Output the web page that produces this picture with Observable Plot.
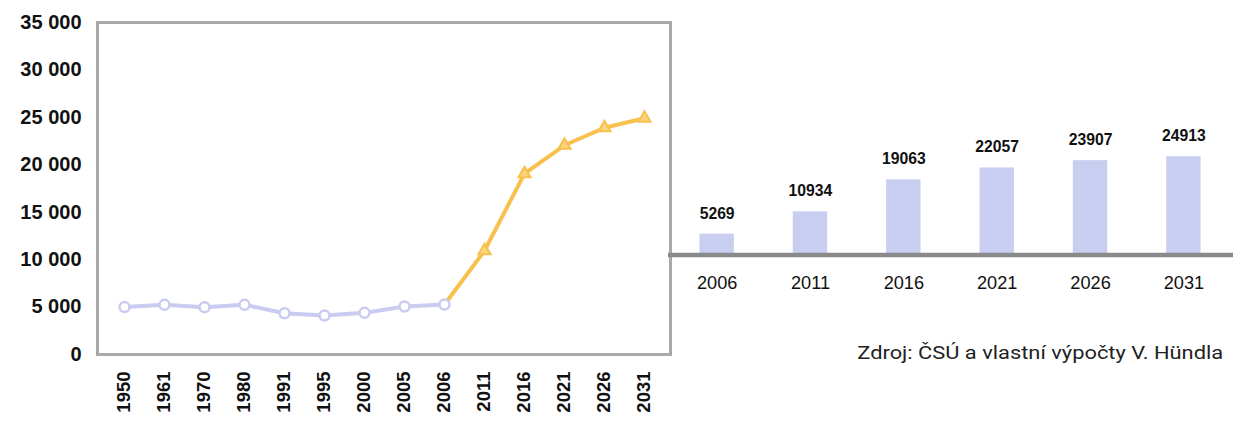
<!DOCTYPE html>
<html>
<head>
<meta charset="utf-8">
<script src="https://cdn.jsdelivr.net/npm/d3@7"></script>
<script src="https://cdn.jsdelivr.net/npm/@observablehq/plot@0.6"></script>
<style>
  html, body { margin: 0; padding: 0; background: #fff; }
  body { width: 1233px; height: 423px; position: relative; overflow: hidden; }
  #line, #bars { position: absolute; top: 0; }
  #line { left: 0; }
  #bars { left: 668px; }
  #source {
    position: absolute; right: 10px; top: 341px;
    font-family: Roboto, "Noto Sans", sans-serif; font-size: 19px; color: #222;
    white-space: nowrap; transform: scaleX(1.15); transform-origin: right center;
  }
</style>
</head>
<body>
<div id="line"></div>
<div id="bars"></div>
<div id="source">Zdroj: ČSÚ a vlastní výpočty V. Hündla</div>
<script>
// Census years and population (historical)
const pastYears = ["1950", "1961", "1970", "1980", "1991", "1995", "2000", "2005", "2006"];
const pastPop = [5000, 5240, 4990, 5240, 4350, 4110, 4390, 5060, 5269];

// Projection years and projected population
const projYears = ["2006", "2011", "2016", "2021", "2026", "2031"];
const projPop = [5269, 10934, 19063, 22057, 23907, 24913];

// All categories on the x axis of the line chart
const allYears = ["1950", "1961", "1970", "1980", "1991", "1995", "2000", "2005", "2006", "2011", "2016", "2021", "2026", "2031"];
const yTicks = [0, 5000, 10000, 15000, 20000, 25000, 30000, 35000];

const past = pastYears.map((year, i) => ({year, pop: pastPop[i]}));
const proj = projYears.map((year, i) => ({year, pop: projPop[i]}));

const spaceThousands = d => d3.format(",")(d).replace(/,/g, " ");

const lineChart = Plot.plot({
  width: 675,
  height: 423,
  marginLeft: 97,
  marginRight: 5,
  marginTop: 22,
  marginBottom: 69,
  style: {fontFamily: "Arial, 'Liberation Sans', sans-serif", color: "#111", background: "transparent"},
  x: {type: "point", domain: allYears, padding: 0.5},
  y: {domain: [0, 35000]},
  marks: [
    Plot.axisY({ticks: yTicks, tickFormat: spaceThousands, tickSize: 0, tickPadding: 16, label: null, fontSize: 20, fontWeight: "bold"}),
    Plot.axisX({tickRotate: -90, tickSize: 0, tickPadding: 17, label: null, fontSize: 18.5, fontWeight: "bold"}),
    Plot.frame({stroke: "#a9a9a9", strokeWidth: 3}),
    Plot.line(proj, {x: "year", y: "pop", stroke: "#f8c04c", strokeWidth: 4}),
    Plot.line(past, {x: "year", y: "pop", stroke: "#cacbf0", strokeWidth: 4}),
    Plot.dot(past, {x: "year", y: "pop", r: 5, stroke: "#cacbf0", strokeWidth: 2.5, fill: "#fff"}),
    Plot.dot(proj.slice(1), {x: "year", y: "pop", symbol: "triangle", r: 4.5, stroke: "#f8c04c", strokeWidth: 2, fill: "#fbd47c"})
  ]
});
document.getElementById("line").append(lineChart);

const barChart = Plot.plot({
  width: 575,
  height: 423,
  marginLeft: 0,
  marginRight: 0,
  marginTop: 0,
  marginBottom: 164,
  style: {fontFamily: "Arial, 'Liberation Sans', sans-serif", color: "#111", background: "transparent"},
  x: {type: "band", domain: projYears, paddingInner: 0.63, paddingOuter: 0.315},
  y: {domain: [0, 64500], axis: null},
  marks: [
    Plot.axisX({tickSize: 0, tickPadding: 21, label: null, fontSize: 18.5}),
    Plot.barY(proj, {x: "year", y: "pop", fill: "#c8cef0"}),
    Plot.text(proj, {x: "year", y: "pop", text: d => String(d.pop), dy: -21, fontWeight: "bold", fontSize: 16, fill: "#111"}),
    Plot.ruleY([0], {stroke: "#8a8a8a", strokeWidth: 4.5})
  ]
});
document.getElementById("bars").append(barChart);
</script>
</body>
</html>
